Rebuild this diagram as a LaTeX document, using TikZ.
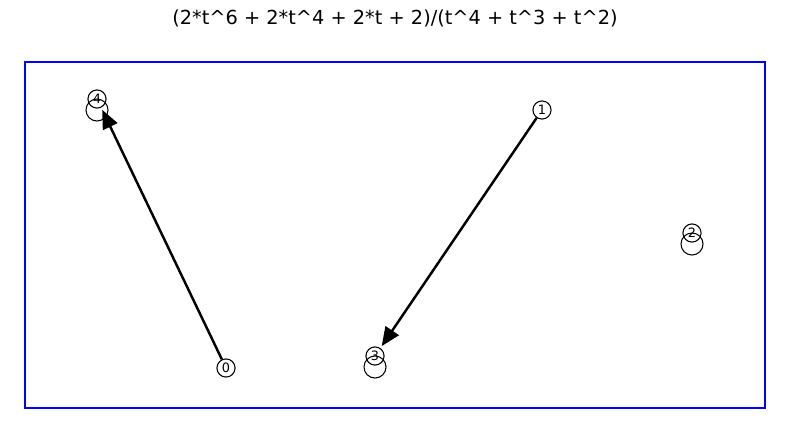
\documentclass[tikz,border=0pt]{standalone}
\usepackage{fontspec}
\setmainfont{DejaVu Sans}
\usetikzlibrary{arrows.meta}
\definecolor{FrameBlue}{HTML}{0000FF}

\tikzset{
  vertex/.style={circle, draw=black, line width=0.9pt, minimum size=15.5pt, inner sep=0pt,
    font=\fontsize{11}{11}\selectfont},
  selfloop/.style={draw=black, line width=0.9pt},
  edge/.style={line width=2.1pt, -{Triangle[length=16pt, width=13.5pt]}, shorten >=2pt}
}

\begin{document}
\begin{tikzpicture}[x=0.03cm, y=-0.03cm]
  \useasboundingbox (0,0) rectangle (790,425);

  % Title
  \node[font=\fontsize{16.5}{18}\selectfont] (title) at (395,18) {(2*t\^{}6 + 2*t\^{}4 + 2*t + 2)/(t\^{}4 + t\^{}3 + t\^{}2)};

  % Frame
  \draw[color=FrameBlue, line width=0.9pt] (25,62) rectangle (765,408);

  % Vertices
  \node[vertex] (n0) at (226,368) {0};
  \node[vertex] (n1) at (542,110) {1};
  \node[vertex] (n2) at (692,233) {2};
  \node[vertex] (n3) at (375,356) {3};
  \node[vertex] (n4) at (97,99) {4};

  % Self loops
  \foreach \v in {n2,n3,n4} {
    \draw[selfloop] ([yshift=-9.4pt]\v.center) circle[radius=9.4pt];
  }

  % Edges
  \draw[edge] (n0) -- (n4);
  \draw[edge] (n1) -- (n3);
\end{tikzpicture}
\end{document}
